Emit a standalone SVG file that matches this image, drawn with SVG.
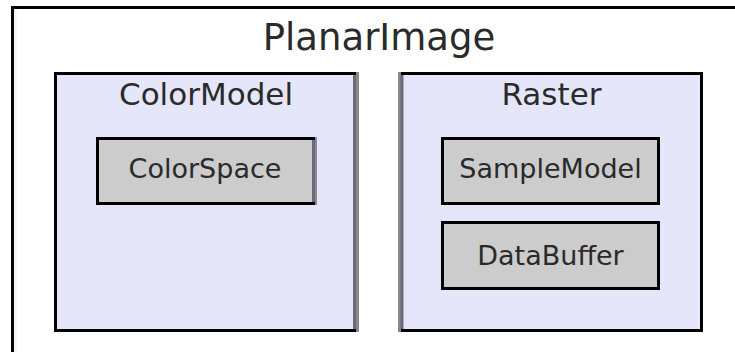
<svg xmlns="http://www.w3.org/2000/svg" width="735" height="352" viewBox="0 0 735 352">
<style>
text{font-family:"DejaVu Sans","Liberation Sans",sans-serif;fill:#2a2a2a;text-anchor:middle}
.frame{fill:#fff;stroke:#000;stroke-width:3}
.group{fill:#e6e6fa;stroke:#000;stroke-width:3}
.item{fill:#cccccc;stroke:#000;stroke-width:3}
.t1{font-size:37px}
.t2{font-size:31px}
.t3{font-size:27px}
.shade{stroke:#888;stroke-width:3;fill:none}
.shade2{stroke:#6b6b78;stroke-width:3;fill:none}
</style>
<g id="PlanarImage">
<rect class="frame" x="12.5" y="7.5" width="740" height="360"/>
<line x1="15.5" y1="10" x2="15.5" y2="352" stroke="#f2f2f2" stroke-width="2"/>
<text class="t1" x="379" y="50">PlanarImage</text>
</g>
<g id="ColorModel">
<rect class="group" x="55.5" y="73.5" width="299" height="257"/>
<line class="shade2" x1="354.5" y1="75" x2="354.5" y2="329"/>
<line class="shade" x1="357.5" y1="72" x2="357.5" y2="332"/>
<text class="t2" x="206" y="105">ColorModel</text>
</g>
<g id="ColorSpace">
<rect class="item" x="97.5" y="138.5" width="216" height="65"/>
<line class="shade2" x1="313.5" y1="140" x2="313.5" y2="202"/>
<line x1="316" y1="137" x2="316" y2="205" stroke="#8a8a99" stroke-width="2"/>
<text class="t3" x="205" y="178">ColorSpace</text>
</g>
<g id="Raster">
<rect class="group" x="401.5" y="73.5" width="300" height="257"/>
<line class="shade" x1="399.5" y1="72" x2="399.5" y2="332"/>
<line class="shade2" x1="402" y1="75" x2="402" y2="329"/>
<text class="t2" x="551.5" y="105">Raster</text>
</g>
<g id="SampleModel">
<rect class="item" x="442.5" y="138.5" width="216" height="65"/>
<text class="t3" x="550.5" y="178">SampleModel</text>
</g>
<g id="DataBuffer">
<rect class="item" x="442.5" y="222.5" width="216" height="66"/>
<text class="t3" x="550.5" y="265">DataBuffer</text>
</g>
<g id="connectors"/>
</svg>
